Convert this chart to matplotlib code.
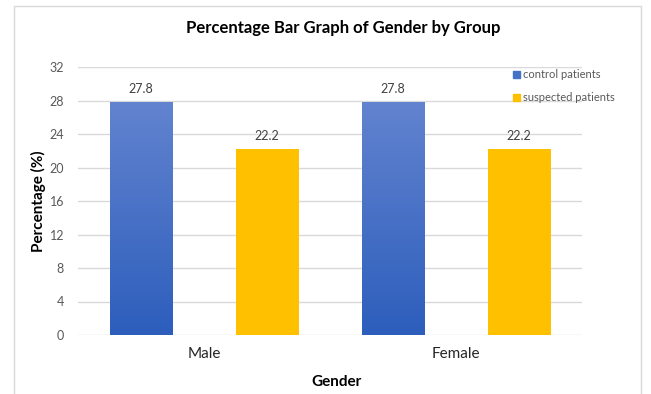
import matplotlib
matplotlib.use("Agg")
import matplotlib.pyplot as plt
import numpy as np
from matplotlib.patches import Rectangle
from matplotlib.colors import LinearSegmentedColormap

categories = ["Male", "Female"]
series_names = ["control patients", "suspected patients"]
control = [27.8, 27.8]
suspected = [22.2, 22.2]
yticks = [0, 4, 8, 12, 16, 20, 24, 28, 32]

plt.rcParams['font.family'] = ['Lato', 'DejaVu Sans']

W, H = 651, 394
fig = plt.figure(figsize=(W/100, H/100), dpi=100)
fig.patch.set_facecolor('white')
# outer chart border
fig.patches.append(Rectangle((14/W, -0.05), (641-14)/W, 1.05 - 6/H, transform=fig.transFigure,
                             fill=False, edgecolor='#d9d9d9', linewidth=1.0))

ax = fig.add_axes([78/W, 1 - 335/H, (582-78)/W, (335-67)/H])
x = np.arange(len(categories))
bw = 0.25
b1 = ax.bar(x - 0.25, control, bw, color='#4472C4', label=series_names[0], zorder=3)
b2 = ax.bar(x + 0.25, suspected, bw, color='#FFC000', label=series_names[1], zorder=3)

# gradient on blue bars
grad = np.linspace(0, 1, 256).reshape(-1, 1)
cmap = LinearSegmentedColormap.from_list('g', ['#2D5EBC', '#6283CF'])
for rect in b1:
    x0, y0 = rect.get_x(), rect.get_y()
    w, h = rect.get_width(), rect.get_height()
    im = ax.imshow(grad, extent=[x0, x0 + w, y0, y0 + h], origin='lower', aspect='auto',
                   cmap=cmap, zorder=3.5)
    im.set_clip_path(rect)

for rect, v in zip(list(b1) + list(b2), control + suspected):
    ax.text(rect.get_x() + rect.get_width()/2, v + 0.9, f"{v:.1f}", ha='center', va='bottom',
            fontsize=9, color='#404040')

ax.set_xlim(-0.5, 1.5)
ax.set_ylim(0, 32)
ax.set_yticks(yticks)
ax.set_yticklabels([str(t) for t in yticks], fontsize=9, color='#595959')
ax.set_xticks(x)
ax.set_xticklabels(categories, fontsize=11, color='#262626')
ax.tick_params(axis='both', length=0)
ax.tick_params(axis='y', pad=10)
ax.tick_params(axis='x', pad=9)
ax.grid(axis='y', color='#d9d9d9', linewidth=1.0, zorder=0)
for s in ax.spines.values():
    s.set_visible(False)
ax.set_axisbelow(True)

fig.text(343/W, 1 - 28/H, "Percentage Bar Graph of Gender by Group", ha='center', va='center',
         fontsize=12, fontweight='bold', color='#000000')
fig.text(336/W, 1 - 382/H, "Gender", ha='center', va='center',
         fontsize=11, fontweight='bold', color='#000000')
fig.text(38/W, 1 - 201/H, "Percentage (%)", ha='center', va='center', rotation=90,
         fontsize=11, fontweight='bold', color='#000000')

# legend
handles = [Rectangle((0, 0), 1, 1, color='#4472C4'), Rectangle((0, 0), 1, 1, color='#FFC000')]
leg = fig.legend(handles, series_names, loc='upper left', bbox_to_anchor=(503/W, 1 - 59/H),
                 frameon=False, fontsize=8, handlelength=0.6, handleheight=0.6,
                 handletextpad=0.3, labelspacing=1.1, labelcolor='#595959')

fig.savefig("out.png", dpi=100)
